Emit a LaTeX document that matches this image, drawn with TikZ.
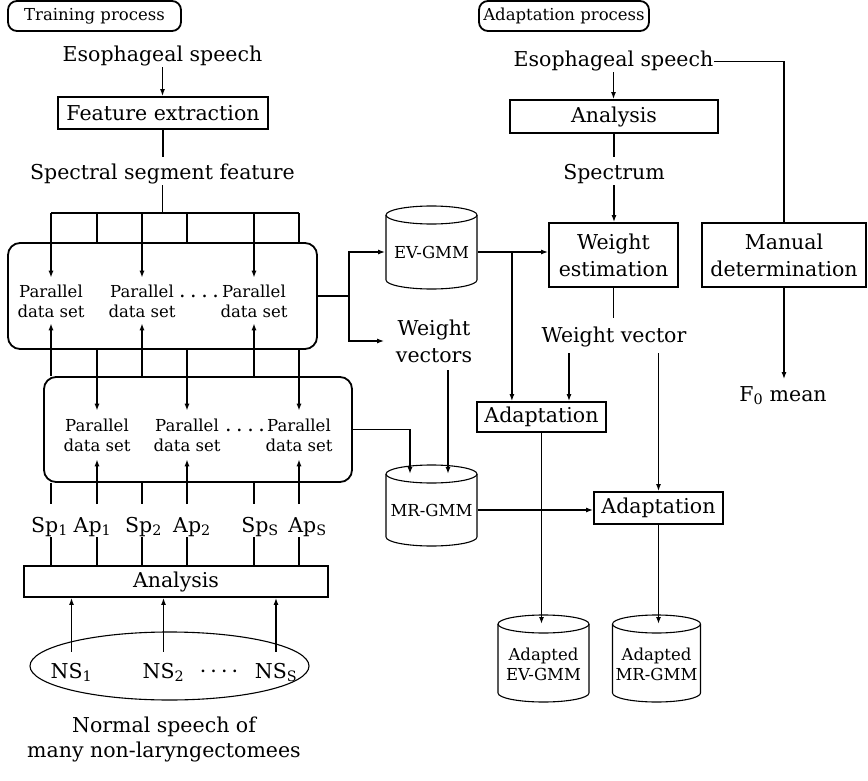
\documentclass[tikz,border=0pt]{standalone}
\usepackage{fontspec}
\setmainfont{DejaVu Serif}
\usetikzlibrary{arrows.meta,calc,shapes.geometric}
\newcommand\bigf{\fontsize{20.5}{27}\selectfont}
\newcommand\smallf{\fontsize{16.5}{20}\selectfont}
\newcommand\lowdots{.\kern4.5pt.\kern4.5pt.\kern4.5pt.}
\newcommand\middots{·\kern4pt·\kern4pt·\kern4pt·}
% database drum: centre x, top y, bottom y, half width
\newcommand\drum[4]{%
  \draw[cyl] (#1-#4,#2+9) -- (#1-#4,#3-9)
    arc[start angle=180,end angle=0,x radius=#4,y radius=9] -- (#1+#4,#2+9);
  \draw[cyl] (#1,#2+9) ellipse[x radius=#4,y radius=9];}
\begin{document}
\begin{tikzpicture}[x=1pt,y=-1pt,
  line width=1.8pt,
  >={Latex[length=7pt,width=5pt]},
  txt/.style={inner sep=0pt,font=\bigf},
  stxt/.style={inner sep=0pt,font=\smallf,align=center},
  box/.style={draw,inner sep=0pt,font=\bigf,align=center},
  tag/.style={draw,rounded corners=9pt,inner sep=0pt,font=\smallf,minimum height=30pt},
  group/.style={draw,rounded corners=12pt,inner sep=0pt},
  cyl/.style={line width=1.1pt},
]
\useasboundingbox (0,0) rectangle (868,781);

% ---------- training side ----------
\node[tag,minimum width=173pt] (train) at (94.5,16) {Training process};
\node[txt,anchor=base] (esL) at (162.5,62) {Esophageal speech};
\node[box,minimum width=210pt,minimum height=32pt] (fe) at (163,113) {Feature extraction};
\node[txt,anchor=base] (ssf) at (162.5,180) {Spectral segment feature};
\coordinate (busL) at (51,213);
\coordinate (busR) at (299,213);

\node[group,minimum width=309pt,minimum height=106pt] (up) at (162.5,296) {};
\node[stxt] (pa1) at (51,301) {Parallel\\data set};
\node[stxt] (pa2) at (142,301) {Parallel\\data set};
\node[stxt] (pa3) at (254,301) {Parallel\\data set};
\node[txt,anchor=base] (dotsA) at (199,297) {\lowdots};

\node[group,minimum width=308pt,minimum height=105pt] (low) at (198,429.5) {};
\node[stxt] (pb1) at (97,435) {Parallel\\data set};
\node[stxt] (pb2) at (187,435) {Parallel\\data set};
\node[stxt] (pb3) at (299,435) {Parallel\\data set};
\node[txt,anchor=base] (dotsB) at (245,431) {\lowdots};

\node[txt,anchor=base] (sp1) at (49.5,532) {Sp\textsubscript{1}};
\node[txt,anchor=base] (ap1) at (92.5,532) {Ap\textsubscript{1}};
\node[txt,anchor=base] (sp2) at (143.5,532) {Sp\textsubscript{2}};
\node[txt,anchor=base] (ap2) at (192,532) {Ap\textsubscript{2}};
\node[txt,anchor=base] (sps) at (260,532) {Sp\textsubscript{S}};
\node[txt,anchor=base] (aps) at (307.5,532) {Ap\textsubscript{S}};

\node[box,minimum width=304pt,minimum height=31pt] (an) at (176,581.5) {Analysis};
\node[draw,ellipse,cyl,minimum width=279pt,minimum height=68pt] (pool) at (169.5,666) {};
\node[txt,anchor=base] (ns1) at (71.5,678) {NS\textsubscript{1}};
\node[txt,anchor=base] (ns2) at (163.5,678) {NS\textsubscript{2}};
\node[txt,anchor=base] (nss) at (276,678) {NS\textsubscript{S}};
\node[txt,anchor=base] (dotsC) at (219,678) {\middots};
\node[txt,align=center,font=\fontsize{20.5}{25}\selectfont] (caption) at (164,739)
  {Normal speech of\\many non-laryngectomees};

% ---------- models ----------
\drum{431.5}{206}{289}{45.5}
\node[stxt,minimum width=91pt] (ev) at (431.5,252) {EV-GMM};
\coordinate (ev-top) at (431.5,215);
\node[txt,align=center,minimum width=98pt] (wvs) at (434,341) {Weight\\vectors};
\drum{431.5}{465}{546}{45.5}
\node[stxt,minimum width=91pt] (mr) at (431.5,510) {MR-GMM};
\coordinate (mr-top) at (431.5,474);

% ---------- adaptation side ----------
\node[tag,minimum width=170pt] (adapt) at (564,16) {Adaptation process};
\node[txt,anchor=base] (esR) at (613.5,67) {Esophageal speech};
\node[box,minimum width=208pt,minimum height=33pt] (an2) at (614,116.5) {Analysis};
\node[txt,anchor=base] (spec) at (614,180) {Spectrum};
\node[box,minimum width=129pt,minimum height=64pt] (we) at (613.5,255) {Weight\\estimation};
\node[box,minimum width=164pt,minimum height=64pt] (md) at (784,255) {Manual\\determination};
\node[txt,anchor=base] (f0) at (783,401) {F\textsubscript{0} mean};
\node[txt,anchor=base] (wvec) at (614,342) {Weight vector};
\node[box,minimum width=129pt,minimum height=30pt] (a1) at (541.5,417) {Adaptation};
\node[box,minimum width=129pt,minimum height=32pt] (a2) at (658.5,508) {Adaptation};

\drum{543.5}{615}{702}{45.5}
\node[stxt,minimum width=91pt] (aev) at (543.5,664) {Adapted\\EV-GMM};
\coordinate (aev-top) at (543.5,624);
\drum{656.5}{615}{702}{44}
\node[stxt,minimum width=88pt] (amr) at (656.5,664) {Adapted\\MR-GMM};
\coordinate (amr-top) at (656.5,624);

% ---------- connectors: training ----------
\draw[->] (esL.south) -- (esL.south |- fe.north);
\draw[shorten >=7pt] (fe.south) -- (fe.south |- ssf.north);
\draw (ssf.south) -- (ssf.south |- busL);
\draw (busL) -- (busR);
\foreach \p in {pa1,pa2,pa3}
  \draw[->,shorten >=6pt] (\p.north |- busL) -- (\p.north);
\foreach \p in {pb1,pb2,pb3}{
  \draw (\p.north |- busL) -- (\p.north |- up.north);
  \draw[->,shorten >=7pt] (\p.north |- up.south) -- (\p.north);}
\foreach \p in {pa1,pa2,pa3}
  \draw[->,shorten >=5pt] (\p.south |- low.north) -- (\p.south);
\foreach \s/\p in {sp1/pa1,sp2/pa2,sps/pa3}{
  \draw (\s.south -| \p) -- (an.north -| \p);
  \draw[shorten <=12pt] (\s.north -| \p) -- (low.south -| \p);}
\foreach \s/\p in {ap1/pb1,ap2/pb2,aps/pb3}{
  \draw (\s.south -| \p) -- (an.north -| \p);
  \draw[->,shorten <=12pt,shorten >=7pt] (\s.north -| \p) -- (\p.south);}
\foreach \n in {ns1,ns2,nss}
  \draw[->,shorten <=10pt] (\n.north) -- (\n.north |- an.south);

% ---------- connectors: models ----------
\path (up.east) ++(31,0) coordinate (j1);
\draw (up.east) -- (j1);
\draw[->] (j1) |- (ev.west);
\draw[->] (j1) |- (wvs.west);
\draw[->] (ev.east) -- (ev.east -| we.west);
\path (ev.east) ++(34,0) coordinate (j2);
\draw[->] (j2) -- (j2 |- a1.north);
\draw[->,shorten <=7pt] ([xshift=14pt]wvs.south) -- ([xshift=14pt]wvs.south |- mr-top);
\draw[->] (low.east) -| ($(mr-top)+(-21.5,0)$);
\draw[->] (mr.east) -- (mr.east -| a2.west);

% ---------- connectors: adaptation ----------
\draw[->] (esR.south) -- (esR.south |- an2.north);
\draw (esR.east) -| (md.north);
\draw[shorten >=7pt] (an2.south) -- (an2.south |- spec.north);
\draw[->] (spec.south) -- (spec.south |- we.north);
\draw[shorten >=8pt] (we.south) -- (we.south |- wvec.north);
\draw[->,shorten <=6pt] ([xshift=-45pt]wvec.south) -- ([xshift=-45pt]wvec.south |- a1.north);
\draw[->,shorten <=6pt] (wvec.south -| a2.north) -- (a2.north);
\draw[->,shorten >=6pt] (md.south) -- (md.south |- f0.north);
\draw[->] (a1.south) -- (a1.south |- aev-top);
\draw[->] (a2.south) -- (a2.south |- amr-top);
\end{tikzpicture}
\end{document}
